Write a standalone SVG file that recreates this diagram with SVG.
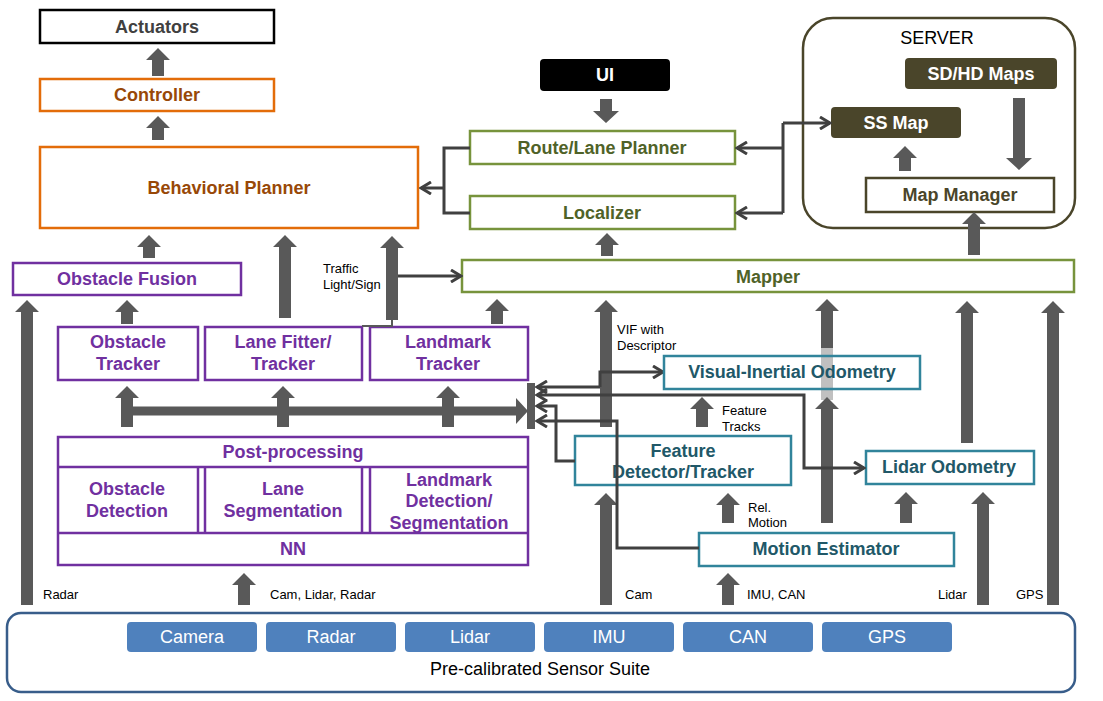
<svg xmlns="http://www.w3.org/2000/svg" width="1103" height="701" viewBox="0 0 1103 701">
<style>
text{font-family:"Liberation Sans",Arial,sans-serif;dominant-baseline:central}
.b{font-weight:bold;font-size:18px;text-anchor:middle}
.s{font-size:13px;fill:#000}
.box{fill:#fff;stroke-width:2.5}
.pu{stroke:#7030A0}.put{fill:#7030A0}
.gr{stroke:#77933C}.grt{fill:#4F6228}
.te{stroke:#31849B}.tet{fill:#215868}
.or{stroke:#E36C09}.ort{fill:#984807}
.fa{fill:#595959}
.ln{fill:none;stroke:#404040;stroke-width:3}
.sen{fill:#4F81BD}
.sent{fill:#fff;font-size:18px;text-anchor:middle}
</style>
<defs>
<marker id="ah" viewBox="0 0 14 14" refX="12" refY="7" markerWidth="14" markerHeight="14" markerUnits="userSpaceOnUse" orient="auto-start-reverse">
<path d="M2,1 L12,7 L2,13" fill="none" stroke="#404040" stroke-width="3"/>
</marker>
</defs>
<rect width="1103" height="701" fill="#fff"/>

<g id="server-frame">
<rect x="803" y="18" width="272" height="210" rx="30" fill="#fff" stroke="#4A452A" stroke-width="2.5"/>
<text x="937" y="38" font-size="18" text-anchor="middle" fill="#000">SERVER</text>
</g>

<g id="actuators"><rect class="box" x="40" y="10" width="234" height="33" stroke="#000" stroke-width="3"/><text class="b" x="157" y="27" fill="#404040">Actuators</text></g>
<g id="controller"><rect class="box or" x="40" y="79" width="234" height="32"/><text class="b ort" x="157" y="95">Controller</text></g>
<g id="behavioral-planner"><rect class="box or" x="40" y="147" width="378" height="81"/><text class="b ort" x="229" y="188">Behavioral Planner</text></g>

<g id="ui"><rect x="540" y="59" width="130" height="32" rx="4" fill="#000"/><text class="b" x="605" y="75" fill="#fff">UI</text></g>
<g id="route-planner"><rect class="box gr" x="470" y="131" width="265" height="33"/><text class="b grt" x="602" y="148">Route/Lane Planner</text></g>
<g id="localizer"><rect class="box gr" x="470" y="196" width="265" height="33"/><text class="b grt" x="602" y="213">Localizer</text></g>
<g id="mapper"><rect class="box gr" x="462" y="260" width="612" height="32"/><text class="b grt" x="768" y="277">Mapper</text></g>

<g id="sdhd-maps"><rect x="905" y="58" width="152" height="31" rx="4" fill="#4A452A"/><text class="b" x="981" y="74" fill="#fff">SD/HD Maps</text></g>
<g id="ss-map"><rect x="831" y="107" width="130" height="31" rx="4" fill="#4A452A"/><text class="b" x="896" y="123" fill="#fff">SS Map</text></g>
<g id="map-manager"><rect class="box" x="866" y="178" width="188" height="34" stroke="#4A452A"/><text class="b" x="960" y="195" fill="#4A452A">Map Manager</text></g>

<g id="obstacle-fusion"><rect class="box pu" x="13" y="263" width="228" height="32"/><text class="b put" x="127" y="279">Obstacle Fusion</text></g>
<g id="obstacle-tracker"><rect class="box pu" x="58" y="327" width="140" height="53"/><text class="b put" x="128" y="342">Obstacle</text><text class="b put" x="128" y="364">Tracker</text></g>
<g id="lane-tracker"><rect class="box pu" x="205" y="327" width="157" height="53"/><text class="b put" x="283" y="342">Lane Fitter/</text><text class="b put" x="283" y="364">Tracker</text></g>
<g id="landmark-tracker"><rect class="box pu" x="370" y="327" width="158" height="53"/><text class="b put" x="448" y="342">Landmark</text><text class="b put" x="448" y="364">Tracker</text></g>

<g id="perception-nn">
<rect class="box pu" x="58" y="437" width="470" height="128"/>
<line x1="58" y1="467" x2="528" y2="467" class="pu" stroke-width="2.5"/>
<line x1="58" y1="533" x2="528" y2="533" class="pu" stroke-width="2.5"/>
<line x1="198" y1="467" x2="198" y2="533" class="pu" stroke-width="2.5"/>
<line x1="205" y1="467" x2="205" y2="533" class="pu" stroke-width="2.5"/>
<line x1="362" y1="467" x2="362" y2="533" class="pu" stroke-width="2.5"/>
<line x1="370" y1="467" x2="370" y2="533" class="pu" stroke-width="2.5"/>
<text class="b put" x="293" y="452">Post-processing</text>
<text class="b put" x="127" y="489">Obstacle</text><text class="b put" x="127" y="511">Detection</text>
<text class="b put" x="283" y="489">Lane</text><text class="b put" x="283" y="511">Segmentation</text>
<text class="b put" x="449" y="480">Landmark</text><text class="b put" x="449" y="501">Detection/</text><text class="b put" x="449" y="523">Segmentation</text>
<text class="b put" x="293" y="549">NN</text>
</g>

<g id="feature-detector"><rect class="box te" x="575" y="436" width="216" height="49"/><text class="b tet" x="683" y="451">Feature</text><text class="b tet" x="683" y="472">Detector/Tracker</text></g>
<g id="lidar-odometry"><rect class="box te" x="866" y="451" width="168" height="33"/><text class="b tet" x="949" y="467">Lidar Odometry</text></g>
<g id="motion-estimator"><rect class="box te" x="699" y="533" width="255" height="33"/><text class="b tet" x="826" y="549">Motion Estimator</text></g>

<g id="sensor-suite">
<rect x="7" y="613" width="1068" height="79" rx="14" fill="#fff" stroke="#385D8A" stroke-width="2.5"/>
<rect class="sen" x="127" y="622" width="130" height="30" rx="4"/><text class="sent" x="192" y="637">Camera</text>
<rect class="sen" x="266" y="622" width="130" height="30" rx="4"/><text class="sent" x="331" y="637">Radar</text>
<rect class="sen" x="405" y="622" width="130" height="30" rx="4"/><text class="sent" x="470" y="637">Lidar</text>
<rect class="sen" x="544" y="622" width="130" height="30" rx="4"/><text class="sent" x="609" y="637">IMU</text>
<rect class="sen" x="683" y="622" width="130" height="30" rx="4"/><text class="sent" x="748" y="637">CAN</text>
<rect class="sen" x="822" y="622" width="130" height="30" rx="4"/><text class="sent" x="887" y="637">GPS</text>
<text x="540" y="669" font-size="18" text-anchor="middle" fill="#000">Pre-calibrated Sensor Suite</text>
</g>

<g id="connectors">
<rect x="821" y="348" width="12" height="52" fill="#C0C0C0"/>
<polygon class="fa" points="158,48 170,60 164,60 164,76 152,76 152,60 146,60"/>
<polygon class="fa" points="158,116 170,128 164,128 164,140 152,140 152,128 146,128"/>
<polygon class="fa" points="149,235 161,247 155,247 155,258 143,258 143,247 137,247"/>
<polygon class="fa" points="285,235 297,247 291,247 291,318 279,318 279,247 273,247"/>
<polygon class="fa" points="392,236 404,248 398,248 398,320 386,320 386,248 380,248"/>
<polygon class="fa" points="127,300 139,312 133,312 133,324 121,324 121,312 115,312"/>
<polygon class="fa" points="497,299 509,311 503,311 503,324 491,324 491,311 485,311"/>
<polygon class="fa" points="27,300 39,312 33,312 33,605 21,605 21,312 15,312"/>
<polygon class="fa" points="244,573 256,585 250,585 250,605 238,605 238,585 232,585"/>
<polygon class="fa" points="127,406.5 516,406.5 516,398 528,411 516,424 516,415.5 127,415.5"/>
<polygon class="fa" points="127,386 139,398 133,398 133,427 121,427 121,398 115,398"/>
<polygon class="fa" points="283,386 295,398 289,398 289,427 277,427 277,398 271,398"/>
<polygon class="fa" points="448,386 460,398 454,398 454,427 442,427 442,398 436,398"/>
<rect class="fa" x="527" y="383" width="8" height="46"/>
<polygon class="fa" points="607,233 619,245 613,245 613,256 601,256 601,245 595,245"/>
<polygon class="fa" points="600,99 612,99 612,111 619,111 606,123 593,111 600,111"/>
<polygon class="fa" points="1013,98 1025,98 1025,158 1032,158 1019,170 1006,158 1013,158"/>
<polygon class="fa" points="905,146 917,158 911,158 911,171 899,171 899,158 893,158"/>
<polygon class="fa" points="974,212 986,224 980,224 980,255 968,255 968,224 962,224"/>
<polygon class="fa" points="606,300 618,312 612,312 612,427 600,427 600,312 594,312"/>
<polygon class="fa" points="606,493 618,505 612,505 612,605 600,605 600,505 594,505"/>
<polygon class="fa" points="702,397 714,409 708,409 708,427 696,427 696,409 690,409"/>
<polygon class="fa" points="728,493 740,505 734,505 734,523 722,523 722,505 716,505"/>
<polygon class="fa" points="728,573 740,585 734,585 734,605 722,605 722,585 716,585"/>
<polygon class="fa" points="827,397 839,409 833,409 833,523 821,523 821,409 815,409"/>
<polygon class="fa" points="827,299 839,311 833,311 833,348 821,348 821,311 815,311"/>
<polygon class="fa" points="906,492 918,504 912,504 912,523 900,523 900,504 894,504"/>
<polygon class="fa" points="983,492 995,504 989,504 989,605 977,605 977,504 971,504"/>
<polygon class="fa" points="967,301 979,313 973,313 973,443 961,443 961,313 955,313"/>
<polygon class="fa" points="1053,301 1065,313 1059,313 1059,605 1047,605 1047,313 1041,313"/>

<path class="ln" d="M470,148 H444 V213 H470"/>
<path class="ln" d="M444,188 H421" marker-end="url(#ah)"/>
<path class="ln" d="M783,123 V213"/>
<path class="ln" d="M783,123 H830" marker-end="url(#ah)"/>
<path class="ln" d="M783,148 H737" marker-end="url(#ah)"/>
<path class="ln" d="M783,213 H737" marker-end="url(#ah)"/>
<path class="ln" d="M398,276 H461" marker-end="url(#ah)"/>
<path d="M392,320 V326 H362" fill="none" stroke="#595959" stroke-width="2"/>
<path class="ln" d="M600,387 V372 H663" marker-end="url(#ah)"/>
<path class="ln" d="M600,387 H537" marker-end="url(#ah)"/>
<path class="ln" d="M537,395 H804 V468 H864" marker-start="url(#ah)" marker-end="url(#ah)"/>
<path class="ln" d="M575,461 H556 V406 H537" marker-end="url(#ah)"/>
<path class="ln" d="M699,548 H617 V421 H537" marker-end="url(#ah)"/>
</g>

<g id="vio"><rect x="664" y="356" width="256" height="33" fill="none" stroke="#31849B" stroke-width="2.5"/><text class="b tet" x="792" y="372">Visual-Inertial Odometry</text></g>

<g id="labels">
<text class="s" x="323" y="268">Traffic</text>
<text class="s" x="323" y="284">Light/Sign</text>
<text class="s" x="617" y="329">VIF with</text>
<text class="s" x="617" y="345">Descriptor</text>
<text class="s" x="722" y="410">Feature</text>
<text class="s" x="722" y="426">Tracks</text>
<text class="s" x="748" y="507">Rel.</text>
<text class="s" x="748" y="522">Motion</text>
<text class="s" x="43" y="594">Radar</text>
<text class="s" x="270" y="594">Cam, Lidar, Radar</text>
<text class="s" x="625" y="594">Cam</text>
<text class="s" x="747" y="594">IMU, CAN</text>
<text class="s" x="938" y="594">Lidar</text>
<text class="s" x="1016" y="594">GPS</text>
</g>
</svg>
